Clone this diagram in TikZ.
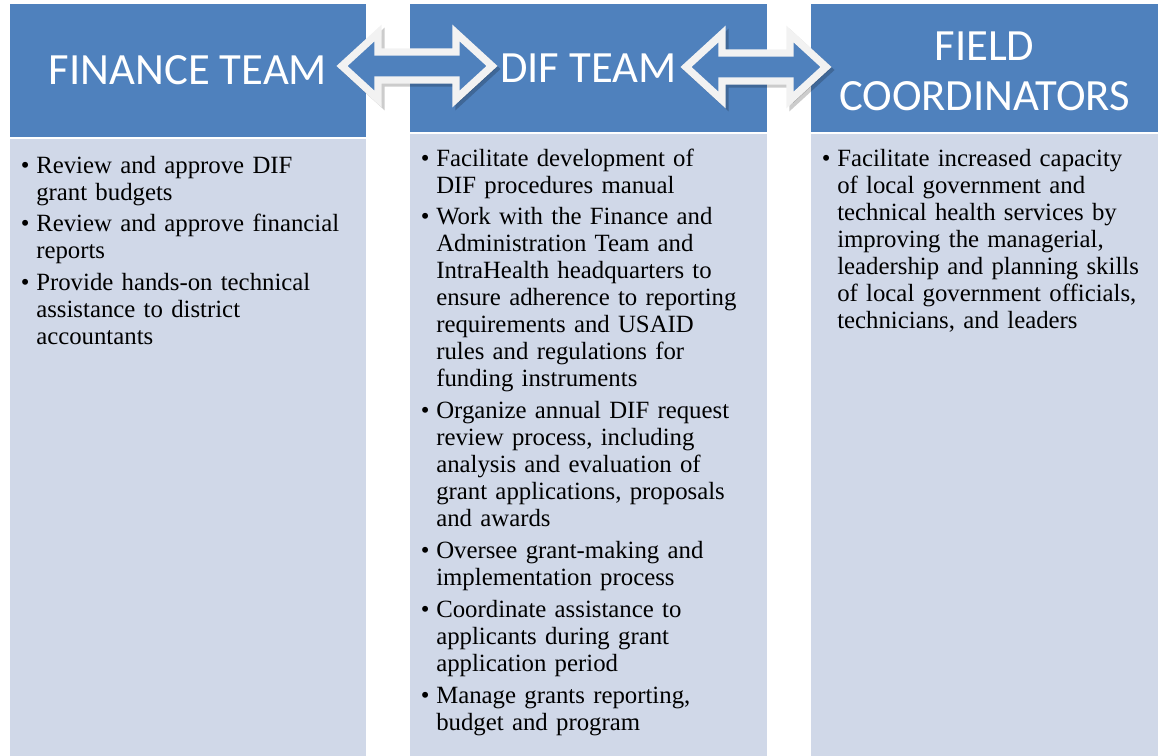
\documentclass[tikz,border=0pt]{standalone}
\usepackage{fontspec}
\setmainfont{Liberation Serif}
\newfontfamily\headfont{Carlito}
\usetikzlibrary{calc}
\usetikzlibrary{positioning}
\definecolor{teamblue}{RGB}{79,129,189}
\definecolor{panelfill}{RGB}{208,216,232}
\definecolor{arrowrim}{RGB}{242,242,242}
\tikzset{
	headbox/.style={rectangle, fill=teamblue, text=white, align=center, inner sep=0pt, font=\headfont\fontsize{33.5}{37.5}\selectfont},
	panelbox/.style={rectangle, fill=panelfill, inner sep=0pt},
	tasklist/.style={anchor=north west, inner sep=0pt, text width=262pt, font=\fontsize{18.6}{20.25}\selectfont},
	dualarrow/.style={fill=teamblue, draw=arrowrim, line width=5.6pt, line join=miter},
	arrowshadow/.style={fill=black, draw=black, line width=5.6pt, line join=miter, opacity=.2}
}
% one bullet point with hanging indent
\newcommand{\task}[1]{\par\hangindent=12pt\hangafter=1\noindent\makebox[12pt][l]{\hspace{.5pt}\textbullet}\strut#1\par}
% double headed block arrow between two tips
\newcommand{\twowayarrow}[3]{%
	\path[#3] (#1) -- ($(#1)+(36,-33)$) -- ($(#1)+(36,-14)$) -- ($(#2)+(-36,-14)$) -- ($(#2)+(-36,-33)$) -- (#2)
	-- ($(#2)+(-36,33)$) -- ($(#2)+(-36,14)$) -- ($(#1)+(36,14)$) -- ($(#1)+(36,33)$) -- cycle;}

\begin{document}
\begin{tikzpicture}[x=0.75pt, y=-0.75pt]
	\useasboundingbox (0,0) rectangle (1158,756);
	
	\node[headbox, minimum width=267pt, minimum height=99.75pt] at (188,70.5) (finhead) {FINANCE TEAM};
	\node[headbox, minimum width=267.75pt, minimum height=96pt] at (588.5,68) (difhead) {DIF TEAM};
	\node[headbox, minimum width=260.25pt, minimum height=96pt] at (984.5,68) (fieldhead) {};
	\node[headbox, fill=none] at (984.5,71) (fieldtitle) {FIELD\\COORDINATORS};
	
	\node[panelbox, minimum width=267pt, minimum height=462.75pt] at (188,447.5) (finpanel) {};
	\node[panelbox, minimum width=267.75pt, minimum height=466.5pt] at (588.5,445) (difpanel) {};
	\node[panelbox, minimum width=260.25pt, minimum height=466.5pt] at (984.5,445) (fieldpanel) {};
	
	\node[tasklist] at (20,141) (fintasks) {\raggedright\setlength{\parskip}{3.6pt}%
		\task{Review and approve DIF\newline grant budgets}
		\task{Review and approve financial\newline reports}
		\task{Provide hands-on technical\newline assistance to district\newline accountants}};
	
	\node[tasklist] at (420,134) (diftasks) {\raggedright\setlength{\parskip}{3.6pt}%
		\task{Facilitate development of\newline DIF procedures manual}
		\task{Work with the Finance and\newline Administration Team and\newline IntraHealth headquarters to\newline ensure adherence to reporting\newline requirements and USAID\newline rules and regulations for\newline funding instruments}
		\task{Organize annual DIF request\newline review process, including\newline analysis and evaluation of\newline grant applications, proposals\newline and awards}
		\task{Oversee grant-making and\newline implementation process}
		\task{Coordinate assistance to\newline applicants during grant\newline application period}
		\task{Manage grants reporting,\newline budget and program}};
	
	\node[tasklist] at (821,134) (fieldtasks) {\raggedright\setlength{\parskip}{3.6pt}%
		\task{Facilitate increased capacity\newline of local government and\newline technical health services by\newline improving the managerial,\newline leadership and planning skills\newline of local government officials,\newline technicians, and leaders}};
	
	% arrows between the teams
	\coordinate (finend) at (342,66);
	\coordinate (difleft) at (492,66);
	\coordinate (difright) at (686,67);
	\coordinate (fieldend) at (826,67);
	\twowayarrow{finend}{difleft}{arrowshadow, transform canvas={shift={(2.25pt,-2.25pt)}}}
	\twowayarrow{finend}{difleft}{dualarrow}
	\twowayarrow{difright}{fieldend}{arrowshadow, transform canvas={shift={(2.25pt,-2.25pt)}}}
	\twowayarrow{difright}{fieldend}{dualarrow}
\end{tikzpicture}
\end{document}
